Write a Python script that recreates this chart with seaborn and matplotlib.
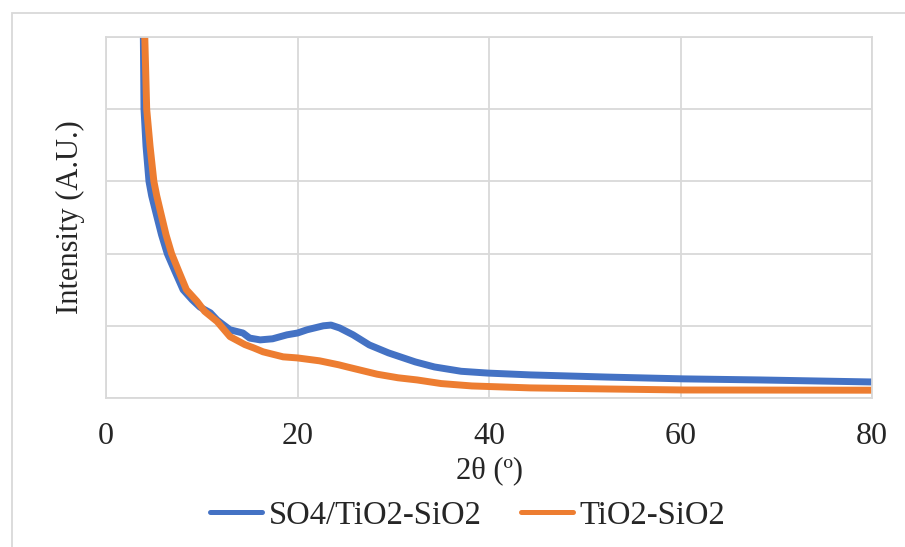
import numpy as np
import pandas as pd
import matplotlib
matplotlib.use("Agg")
import matplotlib.pyplot as plt
import seaborn as sns
from matplotlib.patches import Rectangle

# ---------------------------------------------------------------------------
# DATA (arbitrary intensity units)
# ---------------------------------------------------------------------------
so4_x = [3.6, 3.9, 3.97, 4.18, 4.49, 4.77, 5.3, 5.8, 6.4, 7.2, 8.05, 9.0, 9.8,
         10.9, 11.6, 12.95, 14.3, 15.0, 16.1, 17.4, 18.9, 20.0, 21.0, 22.7,
         23.5, 24.4, 25.8, 27.5, 29.5, 32.3, 34.3, 37.1, 39.9, 44.3, 52.3,
         60.3, 68.3, 80.0]
so4_y = [9000, 5000, 4000, 3490, 3000, 2800, 2520, 2260, 2000, 1755, 1500, 1360, 1260,
         1180, 1080, 945, 900, 830, 805, 820, 875, 900, 945, 1000,
         1010, 970, 875, 735, 625, 500, 430, 370, 345, 320, 290,
         265, 250, 222]

tio2_x = [3.8, 4.05, 4.25, 4.6, 5.0, 5.3, 5.8, 6.27, 6.85, 7.6, 8.4, 9.5, 10.3,
          11.6, 12.95, 14.5, 15.4, 16.4, 18.5, 20.0, 22.3, 24.3, 25.2, 28.3,
          30.5, 32.5, 35.0, 38.2, 44.3, 52.3, 60.3, 80.0]
tio2_y = [9000, 5000, 4000, 3490, 3000, 2800, 2520, 2260, 2000, 1755, 1500, 1340, 1200,
          1060, 850, 740, 695, 640, 570, 555, 515, 460, 430, 330,
          280, 250, 200, 167, 140, 125, 111, 108]

labels = ["SO4/TiO2-SiO2", "TiO2-SiO2"]
colors = ["#4472C4", "#ED7D31"]

df = pd.concat([
    pd.DataFrame({"two_theta": so4_x, "intensity": so4_y, "sample": labels[0]}),
    pd.DataFrame({"two_theta": tio2_x, "intensity": tio2_y, "sample": labels[1]}),
])

# ---------------------------------------------------------------------------
# PLOT
# ---------------------------------------------------------------------------
sns.set_style("white")
plt.rcParams["font.family"] = ["Liberation Serif", "DejaVu Serif"]

fig = plt.figure(figsize=(9.05, 5.47), dpi=100)
ax = fig.add_axes([106 / 905, 1 - 398 / 547, 766 / 905, 361 / 547])

sns.lineplot(data=df, x="two_theta", y="intensity", hue="sample",
             palette=dict(zip(labels, colors)), linewidth=5.0, sort=False,
             estimator=None, ax=ax)
for ln in ax.lines:
    ln.set_solid_joinstyle("round")
    ln.set_solid_capstyle("round")

ax.set_xlim(0, 80)
ax.set_ylim(0, 5000)
ax.set_xticks([0, 20, 40, 60, 80])
ax.set_yticks([0, 1000, 2000, 3000, 4000, 5000])
ax.set_yticklabels([])
ax.tick_params(axis="both", length=0)
ax.tick_params(axis="x", labelsize=23, pad=17)
ax.grid(True, color="#D9D9D9", linewidth=1.3)
for s in ax.spines.values():
    s.set_color("#D9D9D9")
    s.set_linewidth(1.3)

ax.set_xlabel("2θ (º)", fontsize=22)
ax.xaxis.set_label_coords(0.5, -0.16)
ax.set_ylabel("Intensity (A.U.)", fontsize=22)
ax.yaxis.set_label_coords(-0.027, 0.5)

leg = ax.legend(loc="center", bbox_to_anchor=(0.517, 0.058), bbox_transform=fig.transFigure,
                ncol=2, frameon=False, fontsize=23.5, handlelength=1.6, handletextpad=0.2,
                columnspacing=1.2)
for h in leg.get_lines():
    h.set_linewidth(3.6)

# outer chart border
fig.patches.append(Rectangle((12 / 905, -0.1), 1.2, 1 - 12.5 / 547 + 0.1,
                             transform=fig.transFigure, fill=False,
                             edgecolor="#D9D9D9", linewidth=1.3, zorder=0))

fig.savefig("out.png", dpi=100)
